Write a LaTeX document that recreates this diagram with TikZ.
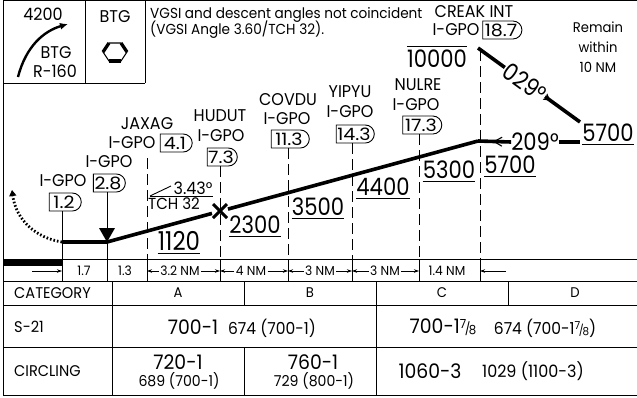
\documentclass[tikz,border=0pt]{standalone}
\usepackage{fontspec}
\setmainfont{Poppins}[FakeStretch=0.94]
\newfontfamily\altf{Poppins}[FakeStretch=0.88]
\newfontfamily\wdf{Poppins}[FakeStretch=1.12]
\usetikzlibrary{shapes.misc,arrows.meta,decorations.markings,calc}
\newcommand\fsz[1]{\fontsize{#1}{#1}\selectfont}
\newcommand\sveig[1]{{\fsz{#1}\raisebox{0.42em}{7}\kern-0.12em/\kern-0.12em\raisebox{-0.12em}{8}}}
\begin{document}
\begin{tikzpicture}[x=1pt,y=-1pt,
  frame/.style={line width=0.9pt},
  prof/.style={line width=3.6pt},
  fixdash/.style={line width=0.9pt, dash pattern=on 11pt off 5pt},
  lab/.style={font=\fsz{17}, inner sep=0pt},
  fixbox/.style={draw, line width=0.9pt, rounded rectangle, rounded rectangle left arc=none, font=\wdf\fsz{17}, inner xsep=2pt, inner ysep=0pt, minimum height=18pt, minimum width=#1},
  fixbox/.default=36pt,
  alt/.style={font=\altf\fsz{24}, inner sep=0pt, anchor=base},
  dist/.style={font=\fsz{13}, inner sep=1.5pt},
  darr/.style={line width=0.7pt, -{Stealth[length=5pt,width=3.5pt]}},
  tab/.style={font=\fsz{15.5}, inner sep=0pt},
  note/.style={font=\fsz{14.5}, inner sep=0pt},
  midarrow/.style={postaction={decorate, decoration={markings, mark=at position #1 with {\arrow{Straight Barb[length=8pt,width=9pt,line width=1.1pt]}}}}},
  ]
\useasboundingbox (0,0) rectangle (637,397);
% frame
\draw[frame] (3,0) -- (3,395);
\draw[frame] (3,0.8) -- (637,0.8);
\draw[frame] (3,83) -- (145,83);
\draw[frame] (85,0) -- (85,83);
\draw[frame] (145,0) -- (145,83);
% top-left boxes
\node[lab] (n4200) at (43,14) {4200};
\node[lab] (nbtg1) at (56,53) {BTG};
\node[lab] (nr160) at (55,71) {R-160};
\draw[line width=2.4pt, -{Latex[length=8pt,width=7pt]}] (18,77) .. controls (26,46) and (44,31) .. (68,24);
\node[lab] (nbtg2) at (115,17) {BTG};
\coordinate (hx) at (115,52);
\draw[line width=1.1pt] ($(hx)+(-12,0)$) -- ($(hx)+(-6,-9)$) -- ($(hx)+(6,-9)$) -- ($(hx)+(12,0)$) -- ($(hx)+(6,9)$) -- ($(hx)+(-6,9)$) -- cycle;
\draw[line width=3.2pt] ($(hx)+(-12,0)$) -- ($(hx)+(-6,-9)$);
\draw[line width=3.2pt] ($(hx)+(6,-9)$) -- ($(hx)+(12,0)$);
\draw[line width=3.2pt] ($(hx)+(6,9)$) -- ($(hx)+(-6,9)$);
% note
\node[note, anchor=base west] (nv1) at (150,18) {VGSI and descent angles not coincident};
\node[note, anchor=base west] (nv2) at (150,34) {(VGSI Angle 3.60/TCH 32).};
% remain
\node[inner sep=0pt, font=\fsz{14}] (nrm1) at (598,27) {Remain};
\node[inner sep=0pt, font=\fsz{14}] (nrm2) at (598,47) {within};
\node[inner sep=0pt, font=\fsz{14}] (nrm3) at (598,67) {10 NM};
% ground coordinates
\foreach \i/\x in {1/62,2/107,3/147,4/220,5/288,6/352,7/419,8/480} {
  \coordinate (g\i) at (\x,259);
  \coordinate (t\i) at (\x,271);
  \coordinate (h\i) at (\x,281);
}
% fix labels
\node[lab] (l1) at (63,181) {I-GPO};
\node[fixbox] (b1) at (64,202) {1.2};
\node[lab] (l2) at (109,162) {I-GPO};
\node[fixbox] (b2) at (108,183) {2.8};
\node[lab] (f3) at (147,124) {JAXAG};
\node[lab] (l3) at (132,143) {I-GPO};
\node[fixbox] (b3) at (175,143) {4.1};
\node[lab] (f4) at (220,116) {HUDUT};
\node[lab] (l4) at (221,136) {I-GPO};
\node[fixbox=34pt] (b4) at (221,157) {7.3};
\node[lab] (f5) at (288,100) {COVDU};
\node[lab] (l5) at (287,119) {I-GPO};
\node[fixbox=42pt] (b5) at (289,139) {11.3};
\node[lab] (f6) at (350,92) {YIPYU};
\node[lab] (l6) at (350,112) {I-GPO};
\node[fixbox=42pt] (b6) at (354,134) {14.3};
\node[lab] (f7) at (418,85) {NULRE};
\node[lab] (l7) at (416,105) {I-GPO};
\node[fixbox=43pt] (b7) at (421,125) {17.3};
\node[lab] (f8) at (474,12) {CREAK INT};
\node[lab] (l8) at (456,30) {I-GPO};
\node[fixbox=36pt] (b8) at (501,30) {18.7};
% verticals
\coordinate (pA) at (62,242);
\coordinate (pB) at (107,242);
\coordinate (pC) at (478,141);
\coordinate (xf) at (220,211);
\draw[frame] (b1.south -| g1) -- (g1);
\draw[frame] (b2.south -| g2) -- (g2);
\draw[fixdash] (147,158) -- (g3);
\draw[fixdash] (b4.south -| g4) -- (g4);
\draw[fixdash] (b5.south -| g5) -- (g5);
\draw[fixdash] (b6.south -| g6) -- (g6);
\draw[fixdash] (b7.south -| g7) -- (g7);
\draw[fixdash] (480,50) -- (g8);
% horizontal lines
\draw[frame] (3,259) -- (637,259);
\draw[frame] (3,281) -- (637,281);
\draw[frame] (3,305) -- (637,305);
\draw[frame] (3,347) -- (637,347);
\draw[frame] (3,395) -- (637,395);
\fill (3,259) rectangle (62,266);
\foreach \i in {1,...,8} { \draw[frame] (g\i) -- (h\i); }
% profile
\draw[prof] (pA) -- (pB) -- ($(pB)!0.283!(pC)$);
\draw[prof] ($(pB)!0.326!(pC)$) -- (pC);
\fill (99,228) -- (115,228) -- (pB) -- cycle;
\draw[line width=3pt] ($(xf)+(-7,-7)$) -- ($(xf)+(7,7)$);
\draw[line width=3pt] ($(xf)+(-7,7)$) -- ($(xf)+(7,-7)$);
\coordinate (mend) at (12,190);
\draw[line width=2.8pt, dash pattern=on 1.6pt off 2pt, -{Triangle[length=6pt,width=7pt]}] (pA) .. controls (36,238) and (16,220) .. (mend);
% angle note
\draw[frame] (150,196) -- (213,196);
\draw[frame] (150,196) -- (171,186);
\node[font=\fsz{17}, inner sep=0pt] (nang) at (193,188) {3.43°};
\node[font=\fsz{16}, inner sep=0pt] (ntch) at (174,204) {TCH 32};
% route from CREAK
\coordinate (cr) at (478,48);
\coordinate (q2) at (580,122);
\draw[prof, midarrow=0.71] (cr) -- node[pos=0.46, sloped, fill=white, inner sep=1pt, font=\altf\fsz{24}] (n029) {029°} (q2);
\node[font=\altf\fsz{24}, inner sep=0pt] (n209) at (535,142) {209°};
\draw[prof, midarrow=0.55] (n209.west) -- (pC);
\coordinate (q1) at (580,142);
\draw[prof] (n209.east) -- (q1);
% altitudes
\node[alt, font=\altf\fsz{26}] (a1) at (179,250) {1120};
\node[alt] (a2) at (255,233) {2300};
\node[alt] (a3) at (318,215) {3500};
\node[alt] (a4) at (383,195) {4400};
\node[alt] (a5) at (449,178) {5300};
\node[alt] (a6) at (510,173) {5700};
\node[alt] (a7) at (608,141) {5700};
\node[alt] (a8) at (437,67) {10000};
\foreach \a in {a1,a2,a3,a4,a5,a6,a7} {
  \draw[frame] ([yshift=-3pt]\a.south west) -- ([yshift=-3pt]\a.south east);
}
\draw[frame] ([yshift=3pt]a8.north west) -- ([yshift=3pt]a8.north east);
% distances
\node[dist] (d1) at (84,271) {1.7};
\node[dist] (d2) at (125,271) {1.3};
\node[dist] (d3) at (180,271) {3.2 NM};
\node[dist] (d4) at (251,271) {4 NM};
\node[dist] (d5) at (320,271) {3 NM};
\node[dist] (d6) at (385,271) {3 NM};
\node[dist] (d7) at (447,271) {1.4 NM};
\coordinate (la) at (32,271);
\coordinate (ra) at (506,271);
\draw[darr] (la) -- (t1);
\draw[darr] (ra) -- (t8);
\draw[darr] (d3.west) -- (t3);
\draw[darr] (d3.east) -- (t4);
\draw[darr] (d4.west) -- (t4);
\draw[darr] (d4.east) -- (t5);
\draw[darr] (d5.west) -- (t5);
\draw[darr] (d5.east) -- (t6);
\draw[darr] (d6.west) -- (t6);
\draw[darr] (d6.east) -- (t7);
% table
\draw[frame] (112,281) -- (112,395);
\draw[frame] (244,281) -- (244,305);
\draw[frame] (244,347) -- (244,395);
\draw[frame] (376,281) -- (376,395);
\draw[frame] (508,281) -- (508,305);
\node[tab, anchor=west] (c0) at (14,293) {CATEGORY};
\node[tab, font=\fsz{14}] (ca) at (178,293) {A};
\node[tab, font=\fsz{14}] (cb) at (310,293) {B};
\node[tab, font=\fsz{14}] (cc) at (442,293) {C};
\node[tab, font=\fsz{14}] (cd) at (575,293) {D};
\node[tab, anchor=west] (r1) at (14,327) {S-21};
\node[tab, anchor=west] (r2) at (14,371) {CIRCLING};
\node[tab, font=\fsz{20}] (s1) at (193,327) {700-1};
\node[tab, font=\fsz{16.5}] (s2) at (272,328) {674 (700-1)};
\node[tab, font=\fsz{20}] (s3) at (443,327) {700-1\sveig{12.5}};
\node[tab, font=\fsz{16.5}] (s4) at (545,328) {674 (700-1\sveig{11})};
\node[tab, font=\fsz{20}] (k1) at (178,362) {720-1};
\node[tab, font=\fsz{15}] (k2) at (179,381) {689 (700-1)};
\node[tab, font=\fsz{20}] (k3) at (313,362) {760-1};
\node[tab, font=\fsz{15}] (k4) at (314,381) {729 (800-1)};
\node[tab, font=\fsz{20}] (k5) at (430,371) {1060-3};
\node[tab, font=\fsz{17}] (k6) at (533,371) {1029 (1100-3)};
\end{tikzpicture}
\end{document}
